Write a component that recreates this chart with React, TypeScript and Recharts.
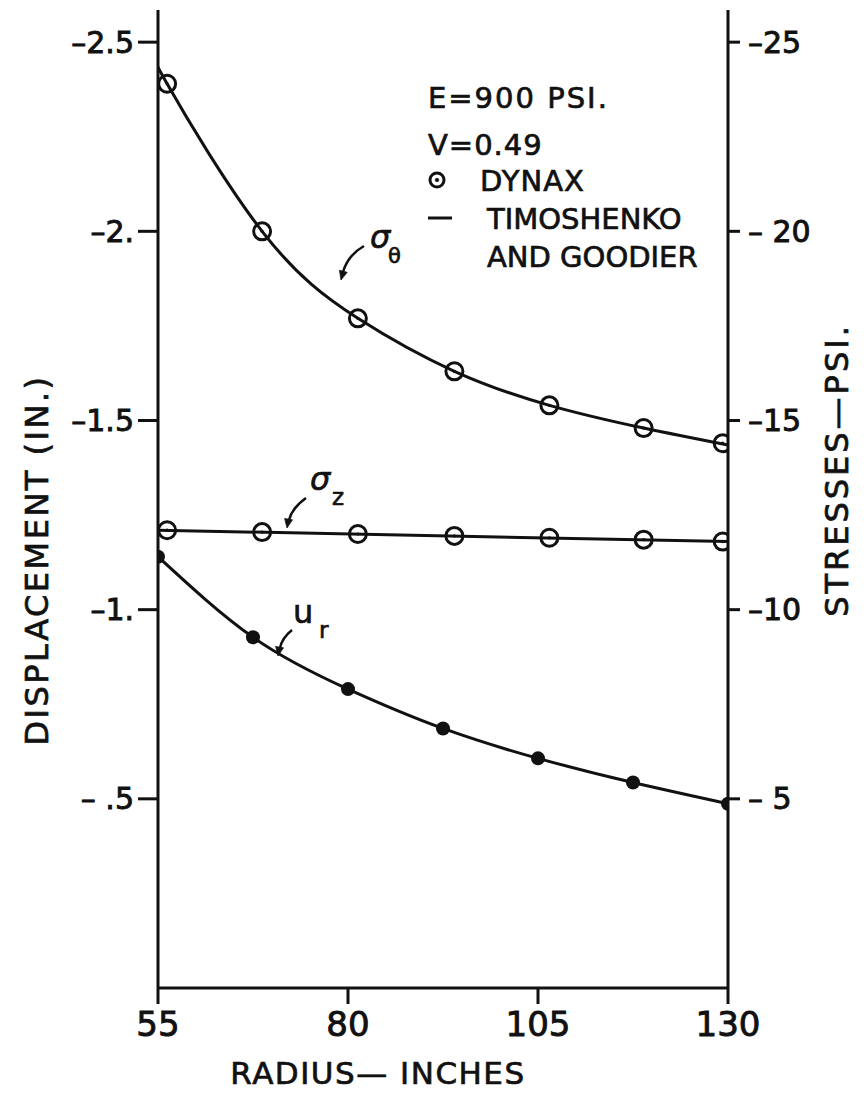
import React from 'react';
import { ComposedChart, Line, Scatter, XAxis, YAxis } from 'recharts';

// Radii (in.) of the DYNAX nodes (displacement) and element centres (stresses)
const nodeRadius = [55, 67.5, 80, 92.5, 105, 117.5, 130];
const elementRadius = [56.2, 68.7, 81.3, 94, 106.5, 118.9, 129.3];

// DYNAX results
const dynaxHoopStress = [-23.9, -20.0, -17.7, -16.3, -15.4, -14.8, -14.4]; // psi
const dynaxAxialStress = [-12.1, -12.05, -12.0, -11.95, -11.9, -11.85, -11.8]; // psi
const dynaxRadialDisp = [-1.14, -0.927, -0.79, -0.686, -0.607, -0.543, -0.487]; // in.

// Timoshenko & Goodier closed-form curves
const hoopCurveRadius = [55, 56.2, 68.7, 81.3, 94, 106.5, 118.9, 130];
const hoopCurveStress = [-24.5, -23.9, -20.0, -17.7, -16.3, -15.4, -14.8, -14.35];
const axialCurveRadius = [55, 130];
const axialCurveStress = [-12.1, -11.8];
const dispCurveRadius = [55, 67.5, 80, 92.5, 105, 117.5, 130];
const dispCurveValue = [-1.14, -0.927, -0.79, -0.686, -0.607, -0.543, -0.487];

// Axis ticks
const radiusTicks = [55, 80, 105, 130];
const dispTicks = [-2.5, -2, -1.5, -1, -0.5];
const dispTickLabels = ['–2.5', '–2.', '–1.5', '–1.', '– .5'];
const stressTicks = [-25, -20, -15, -10, -5];
const stressTickLabels = ['–25', '– 20', '–15', '–10', '– 5'];

const pair = (xs: number[], ys: number[]) => xs.map((r, i) => ({ r, v: ys[i] }));

const hoopPoints = pair(elementRadius, dynaxHoopStress);
const axialPoints = pair(elementRadius, dynaxAxialStress);
const dispPoints = pair(nodeRadius, dynaxRadialDisp);
const hoopCurve = pair(hoopCurveRadius, hoopCurveStress);
const axialCurve = pair(axialCurveRadius, axialCurveStress);
const dispCurve = pair(dispCurveRadius, dispCurveValue);

const FONT = '"DejaVu Sans", sans-serif';
const INK = '#111';
const tickText = (size: number) => ({
  fontSize: size,
  fill: INK,
  fontFamily: FONT,
  stroke: INK,
  strokeWidth: 0.9,
});

const OpenCircle = (p: any) => (
  <g>
    <circle cx={p.cx} cy={p.cy} r={8.5} fill="none" stroke={INK} strokeWidth={3} />
    <circle cx={p.cx} cy={p.cy} r={1.6} fill={INK} />
  </g>
);
const SolidDot = (p: any) => <circle cx={p.cx} cy={p.cy} r={7} fill={INK} />;

const Arrow = ({ d, tip, angle }: { d: string; tip: [number, number]; angle: number }) => (
  <g>
    <path d={d} fill="none" stroke={INK} strokeWidth={2.5} />
    <path
      d="M0,0 L-9,-4 L-9,4 Z"
      fill={INK}
      transform={`translate(${tip[0]},${tip[1]}) rotate(${angle})`}
    />
  </g>
);

export default function App() {
  const W = 866;
  const H = 1098;
  return (
    <div style={{ position: 'absolute', left: 0, top: 0, width: W, height: H, background: '#fff' }}>
      <ComposedChart width={W} height={H} margin={{ top: 10, right: 0, bottom: 0, left: 0 }}>
        <XAxis
          type="number"
          dataKey="r"
          domain={[55, 130]}
          ticks={radiusTicks}
          allowDataOverflow
          height={110}
          axisLine={{ stroke: INK, strokeWidth: 3 }}
          tickLine={{ stroke: INK, strokeWidth: 3 }}
          tickSize={16}
          tickMargin={8}
          tick={tickText(34)}
        />
        <YAxis
          yAxisId="disp"
          orientation="left"
          type="number"
          width={158}
          domain={[-2.585, 0]}
          reversed
          allowDataOverflow
          ticks={dispTicks}
          tickFormatter={(v: number) => dispTickLabels[dispTicks.indexOf(v)]}
          axisLine={{ stroke: INK, strokeWidth: 3 }}
          tickLine={{ stroke: INK, strokeWidth: 3 }}
          tickSize={20}
          tickMargin={4}
          tick={tickText(30)}
        />
        <YAxis
          yAxisId="stress"
          orientation="right"
          type="number"
          width={138}
          domain={[-25.85, 0]}
          reversed
          allowDataOverflow
          ticks={stressTicks}
          tickFormatter={(v: number) => stressTickLabels[stressTicks.indexOf(v)]}
          axisLine={{ stroke: INK, strokeWidth: 3 }}
          tickLine={{ stroke: INK, strokeWidth: 3 }}
          tickSize={12}
          tickMargin={8}
          tick={tickText(30)}
        />

        <Line yAxisId="stress" data={hoopCurve} dataKey="v" type="natural" stroke={INK} strokeWidth={3} dot={false} isAnimationActive={false} />
        <Line yAxisId="stress" data={axialCurve} dataKey="v" type="linear" stroke={INK} strokeWidth={3} dot={false} isAnimationActive={false} />
        <Line yAxisId="disp" data={dispCurve} dataKey="v" type="natural" stroke={INK} strokeWidth={3} dot={false} isAnimationActive={false} />

        <Scatter yAxisId="stress" data={hoopPoints} dataKey="v" shape={OpenCircle} isAnimationActive={false} />
        <Scatter yAxisId="stress" data={axialPoints} dataKey="v" shape={OpenCircle} isAnimationActive={false} />
        <Scatter yAxisId="disp" data={dispPoints} dataKey="v" shape={SolidDot} isAnimationActive={false} />
      </ComposedChart>

      <svg
        width={W}
        height={H}
        style={{ position: 'absolute', left: 0, top: 0, pointerEvents: 'none' }}
        fontFamily={FONT}
        fill={INK}
        stroke={INK}
        strokeWidth={0.7}
      >
        {/* Legend block */}
        <text x={428} y={108} fontSize={29} letterSpacing={2}>E=900 PSI.</text>
        <text x={428} y={155} fontSize={29} letterSpacing={1}>V=0.49</text>
        <circle cx={437} cy={180} r={7} fill="none" stroke={INK} strokeWidth={3} />
        <circle cx={437} cy={180} r={1.8} fill={INK} />
        <text x={480} y={191} fontSize={29} letterSpacing={1}>DYNAX</text>
        <line x1={428} y1={218} x2={452} y2={218} stroke={INK} strokeWidth={3} />
        <text x={487} y={229} fontSize={29}>TIMOSHENKO</text>
        <text x={487} y={267} fontSize={29}>AND GOODIER</text>

        {/* Curve labels */}
        <text x={370} y={248} fontSize={32} fontStyle="italic">σ</text>
        <text x={388} y={263} fontSize={21}>θ</text>
        <Arrow d="M364,246 Q348,255 343,272" tip={[341, 280]} angle={105} />

        <text x={310} y={490} fontSize={32} fontStyle="italic">σ</text>
        <text x={332} y={505} fontSize={23}>z</text>
        <Arrow d="M306,498 Q292,508 289,520" tip={[287, 528]} angle={100} />

        <text x={293} y={623} fontSize={32}>u</text>
        <text x={319} y={638} fontSize={23}>r</text>
        <Arrow d="M292,630 Q282,638 280,648" tip={[278, 656]} angle={100} />

        {/* Axis titles */}
        <text x={378} y={1084} fontSize={31} letterSpacing={1.5} textAnchor="middle">RADIUS— INCHES</text>
        <text x={0} y={0} fontSize={32} letterSpacing={2.5} textAnchor="middle" transform="translate(48,560) rotate(-90)">
          DISPLACEMENT (IN.)
        </text>
        <text x={0} y={0} fontSize={32} letterSpacing={3} textAnchor="middle" transform="translate(848,470) rotate(-90)">
          STRESSES—PSI.
        </text>
      </svg>
    </div>
  );
}
